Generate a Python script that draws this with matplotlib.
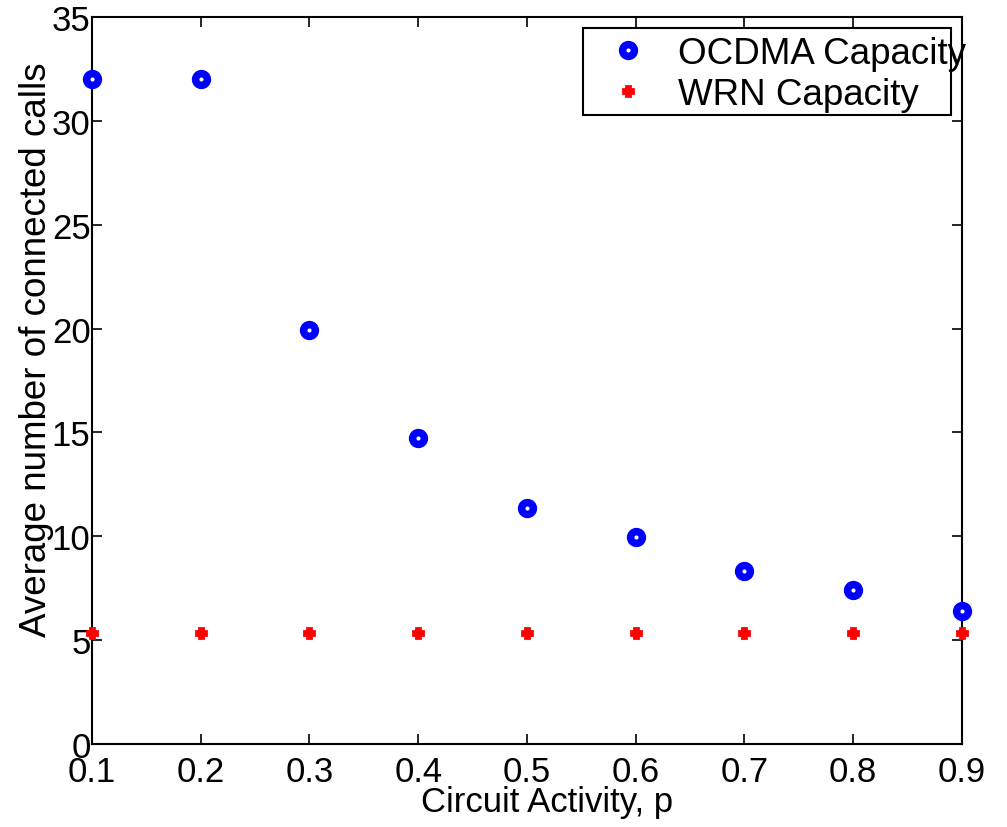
import matplotlib
matplotlib.use("Agg")
import matplotlib.pyplot as plt
from matplotlib.patches import Rectangle

plt.rcParams['font.family'] = ['Liberation Sans', 'DejaVu Sans']

activity = [0.1, 0.2, 0.3, 0.4, 0.5, 0.6, 0.7, 0.8, 0.9]
ocdma = [32.0, 32.0, 19.95, 14.75, 11.37, 9.98, 8.34, 7.42, 6.41]
wrn = [5.35, 5.35, 5.35, 5.35, 5.35, 5.35, 5.35, 5.35, 5.35]
xticks = [0.1, 0.2, 0.3, 0.4, 0.5, 0.6, 0.7, 0.8, 0.9]
yticks = [0, 5, 10, 15, 20, 25, 30, 35]

W, H = 1007, 828
fig = plt.figure(figsize=(W / 100, H / 100), dpi=100)
ax = fig.add_axes([92 / W, 1 - 745 / H, 870 / W, 727 / H])

ax.plot(activity, ocdma, linestyle='none', marker='o', markersize=8.5,
        markerfacecolor='white', markeredgecolor='#0000ff', markeredgewidth=5.4,
        label="OCDMA Capacity", clip_on=False, zorder=3)
ax.plot(activity, wrn, linestyle='none', marker='P', markersize=7.5,
        color='#ff0000', markeredgewidth=2, label="WRN Capacity",
        clip_on=False, zorder=3)

ax.set_xlim(0.1, 0.9)
ax.set_ylim(0, 35)
ax.set_xticks(xticks)
ax.set_xticklabels([f"{v:.1f}" for v in xticks])
ax.set_yticks(yticks)
ax.tick_params(axis='both', direction='in', top=True, right=True, labelsize=25,
               length=7, width=1.2)
ax.tick_params(axis='x', pad=8)
ax.tick_params(axis='y', pad=1)
for s in ax.spines.values():
    s.set_linewidth(1.5)

ax.set_xlabel("Circuit Activity, p", fontsize=25)
ax.xaxis.set_label_coords((547 - 92) / 870, -(786 - 745) / 727)
ax.set_ylabel("Average number of connected calls", fontsize=26.5)
ax.yaxis.set_label_coords(-(92 - 54) / 870, (745 - 350) / 727)

# legend frame drawn separately, text runs over its right edge as in the original
frame = Rectangle((583 / W, 1 - 116 / H), 368 / W, 87 / H,
                  transform=fig.transFigure, facecolor='white',
                  edgecolor='black', linewidth=1.5, zorder=4, clip_on=False)
ax.add_patch(frame)
leg = ax.legend(loc='upper left', bbox_to_anchor=(610 / W, 1 - 37 / H),
                bbox_transform=fig.transFigure, fontsize=26.5, frameon=False,
                borderpad=0, labelspacing=0.17, handlelength=1.0,
                handletextpad=0.85, borderaxespad=0)
leg.set_zorder(5)

fig.savefig("out.png", dpi=100)
